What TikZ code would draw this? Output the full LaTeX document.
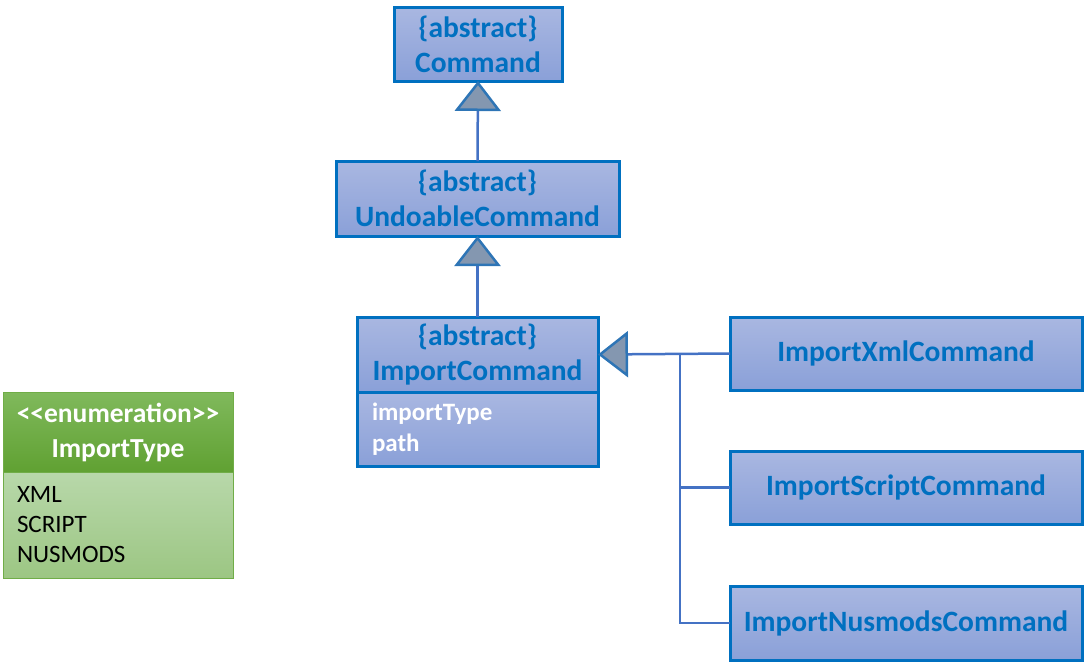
\documentclass[tikz,border=0pt]{standalone}
\usepackage{fontspec}
\setmainfont{Carlito}
\usetikzlibrary{arrows.meta}
\definecolor{bordblue}{HTML}{0070C0}
\definecolor{txtblue}{HTML}{0070C0}
\definecolor{boxtop}{HTML}{A9B7E1}
\definecolor{boxbot}{HTML}{8AA0D8}
\definecolor{connc}{HTML}{4472C4}
\definecolor{trifill}{HTML}{8497B0}
\definecolor{tribord}{HTML}{2E75B6}
\definecolor{gtop}{HTML}{80B95C}
\definecolor{gbot}{HTML}{60A132}
\definecolor{gltop}{HTML}{B8D8AA}
\definecolor{glbot}{HTML}{9CC683}
\definecolor{gbord}{HTML}{70AD47}
\tikzset{
  cls/.style={draw=bordblue, line width=3pt, top color=boxtop, bottom color=boxbot,
    anchor=north west, inner sep=0pt, outer sep=0pt, align=center, text=txtblue,
    font=\fontsize{29.5pt}{35pt}\selectfont\bfseries},
  attr/.style={cls, align=left, text=white, text width=211pt,
    font=\fontsize{25pt}{31pt}\selectfont\bfseries},
  enumhead/.style={draw=gbord, line width=1pt, top color=gtop, bottom color=gbot,
    anchor=north west, inner sep=0pt, outer sep=0pt, align=center, text=white,
    font=\fontsize{27.5pt}{35pt}\selectfont\bfseries},
  enumbody/.style={draw=gbord, line width=1pt, top color=gltop, bottom color=glbot,
    anchor=north west, inner sep=0pt, outer sep=0pt, align=left, text=black, text width=202pt,
    font=\fontsize{25pt}{30pt}\selectfont},
  conn/.style={draw=connc, line width=2.5pt},
  gen/.style={conn, -{Triangle[width=46pt,length=30pt,line width=2.5pt,color=tribord,fill=trifill]}},
}
\begin{document}
\begin{tikzpicture}[x=1pt,y=-1pt]
\useasboundingbox (0,0) rectangle (1084,662);
\node[cls, minimum width=168pt, minimum height=74pt] (cmd) at (394,7) {\{abstract\}\\Command};
\node[cls, minimum width=283pt, minimum height=75pt] (undo) at (336,161) {\{abstract\}\\UndoableCommand};
\node[cls, minimum width=241pt, minimum height=75pt] (icmd) at (357,317) {\{abstract\}\\ImportCommand};
\node[attr, minimum width=241pt, minimum height=74pt] (icmdattr) at (357,392) {importType\\path};
\node[cls, minimum width=352pt, minimum height=73pt] (xml) at (730,317) {ImportXmlCommand};
\node[cls, minimum width=352pt, minimum height=73pt] (script) at (730,451) {ImportScriptCommand};
\node[cls, minimum width=352pt, minimum height=74pt] (nus) at (730,586) {ImportNusmodsCommand};
\node[enumhead, minimum width=230pt, minimum height=80pt] (enumh) at (3,392) {<{}<enumeration>{}>\\ImportType};
\node[enumbody, minimum width=230pt, minimum height=106pt] (enumb) at (3,472) {XML\\SCRIPT\\NUSMODS};
\draw[gen] (undo.north) -- (cmd.south);
\draw[gen] (icmd.north) -- (undo.south);
\draw[gen] (xml.west) -- (icmd.east);
\coordinate (bus) at (680,354);
\draw[conn] (bus) |- (script.west);
\draw[conn] (bus) |- (nus.west);
\end{tikzpicture}
\end{document}
